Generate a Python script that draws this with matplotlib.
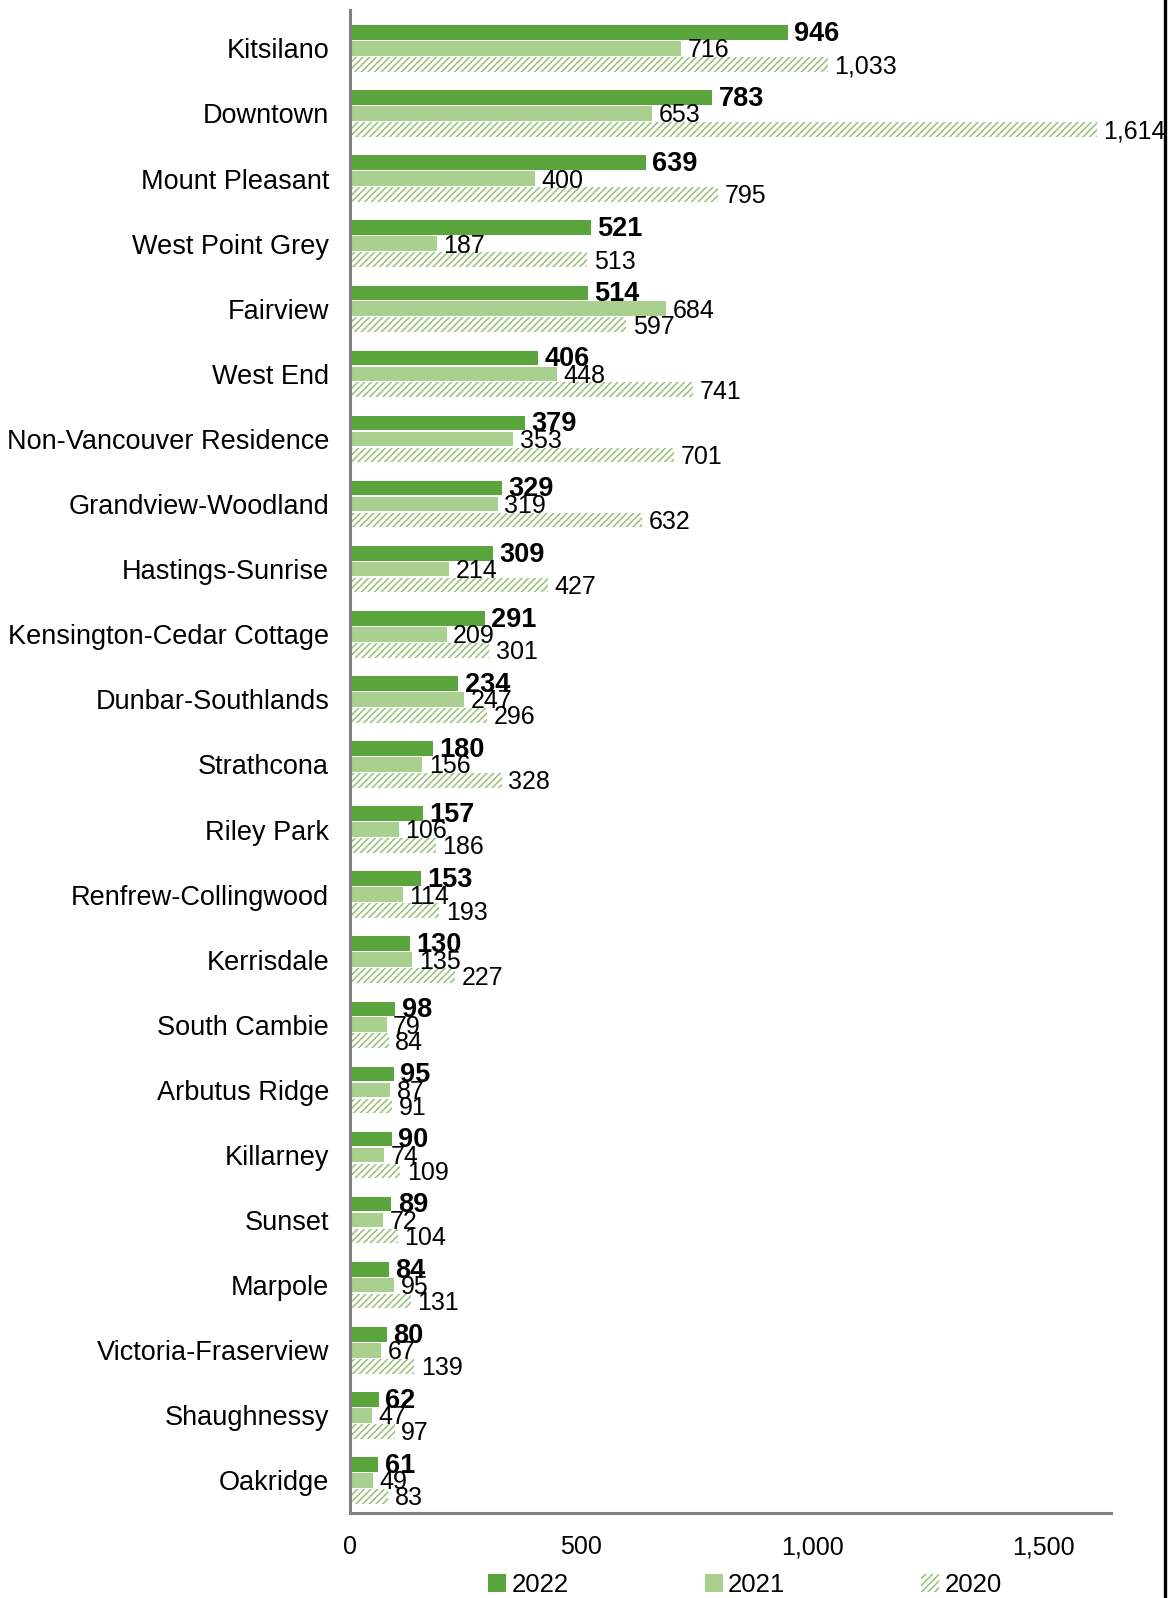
import matplotlib
matplotlib.use("Agg")
import matplotlib.pyplot as plt
from matplotlib.lines import Line2D
from matplotlib.ticker import FuncFormatter
import numpy as np

plt.rcParams['font.family'] = ['Liberation Sans', 'DejaVu Sans']
plt.rcParams['hatch.linewidth'] = 1.2

# data
areas = ["Kitsilano", "Downtown", "Mount Pleasant", "West Point Grey", "Fairview",
         "West End", "Non-Vancouver Residence", "Grandview-Woodland", "Hastings-Sunrise",
         "Kensington-Cedar Cottage", "Dunbar-Southlands", "Strathcona", "Riley Park",
         "Renfrew-Collingwood", "Kerrisdale", "South Cambie", "Arbutus Ridge", "Killarney",
         "Sunset", "Marpole", "Victoria-Fraserview", "Shaughnessy", "Oakridge"]
y2022 = [946, 783, 639, 521, 514, 406, 379, 329, 309, 291, 234, 180, 157, 153, 130,
         98, 95, 90, 89, 84, 80, 62, 61]
y2021 = [716, 653, 400, 187, 684, 448, 353, 319, 214, 209, 247, 156, 106, 114, 135,
         79, 87, 74, 72, 95, 67, 47, 49]
y2020 = [1033, 1614, 795, 513, 597, 741, 701, 632, 427, 301, 296, 328, 186, 193, 227,
         84, 91, 109, 104, 131, 139, 97, 83]

c_dark = "#5aa53c"
c_light = "#a9d08e"
c_hatch = "#9cc47f"

W, H = 1169, 1598
fig = plt.figure(figsize=(W / 100, H / 100), dpi=100)
ax = fig.add_axes([350 / W, 1 - 1513 / H, 761 / W, (1513 - 10) / H])

pos = np.arange(len(areas))
step = 0.245
bh = 0.225

ax.barh(pos - step, y2022, height=bh, color=c_dark, label="2022")
ax.barh(pos, y2021, height=bh, color=c_light, label="2021")
ax.barh(pos + step, y2020, height=bh, color="white", edgecolor=c_hatch, hatch="/////",
        linewidth=0, label="2020")

pad = 14
for i in range(len(areas)):
    ax.text(y2022[i] + pad, pos[i] - step + 0.02, f"{y2022[i]:,}", va="center", ha="left",
            fontsize=19.5, fontweight="bold")
    ax.text(y2021[i] + pad, pos[i] + 0.03, f"{y2021[i]:,}", va="center", ha="left",
            fontsize=18)
    ax.text(y2020[i] + pad, pos[i] + step + 0.03, f"{y2020[i]:,}", va="center", ha="left",
            fontsize=18)

ax.set_xlim(0, 1645)
ax.set_ylim(22.5, -0.59)
ax.set_yticks(pos)
ax.set_yticklabels(areas, fontsize=19.5)
ax.set_xticks([0, 500, 1000, 1500])
ax.xaxis.set_major_formatter(FuncFormatter(lambda v, p: f"{int(v):,}"))
ax.tick_params(axis="y", length=0, pad=15)
ax.tick_params(axis="x", length=0, pad=16, labelsize=18)

for s in ["top", "right"]:
    ax.spines[s].set_visible(False)
for s in ["left", "bottom"]:
    ax.spines[s].set_color("#808080")
    ax.spines[s].set_linewidth(2.2)

fig.legend(loc="center", bbox_to_anchor=(745 / W, 1 - 1585 / H), ncol=3, frameon=False,
           fontsize=18.5, handlelength=0.7, handleheight=0.7, handletextpad=0.2,
           columnspacing=5.3)

# black frame line on the right edge
fig.add_artist(Line2D([1165 / W, 1165 / W], [0, 1], color="black", linewidth=2.4,
                      transform=fig.transFigure))

fig.savefig("out.png", dpi=100, facecolor="white")
